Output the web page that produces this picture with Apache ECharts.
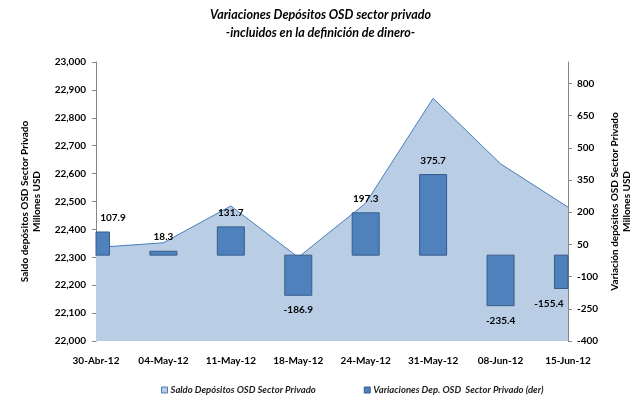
<!DOCTYPE html>
<html>
<head>
<meta charset="utf-8">
<script src="https://cdn.jsdelivr.net/npm/echarts@6/dist/echarts.min.js"></script>
<style>
  html, body { margin: 0; padding: 0; background: #fff; }
  #chart { width: 641px; height: 403px; }
</style>
</head>
<body>
<div id="chart"></div>
<script>
// datos
var fechas = ['30-Abr-12', '04-May-12', '11-May-12', '18-May-12', '24-May-12', '31-May-12', '08-Jun-12', '15-Jun-12'];
var saldo = [22335, 22352, 22484, 22300, 22494, 22870, 22635, 22480];
var variaciones = [107.9, 18.3, 131.7, -186.9, 197.3, 375.7, -235.4, -155.4];
var ticksDer = [-400, -250, -100, 50, 200, 350, 500, 650, 800];

var fuente = 'Lato, "Open Sans", sans-serif';
var chart = echarts.init(document.getElementById('chart'));

// barras como serie custom para poder recortarlas en los bordes del grid
function renderBarra (params, api) {
  var idx = api.value(0);
  var val = api.value(1);
  var pTop = api.coord([idx, val]);
  var pBase = api.coord([idx, 0]);
  var ancho = 27;
  var cs = params.coordSys;
  var rect = echarts.graphic.clipRectByRect({
    x: pTop[0] - ancho / 2,
    y: Math.min(pTop[1], pBase[1]),
    width: ancho,
    height: Math.abs(pBase[1] - pTop[1])
  }, { x: cs.x, y: cs.y, width: cs.width, height: cs.height });
  // etiqueta: se corre hacia adentro en los extremos
  var lx = Math.min(Math.max(pTop[0], cs.x + 17), cs.x + cs.width - 19);
  var ly = val >= 0 ? pTop[1] - 9 : pTop[1] + 10;
  return {
    type: 'group',
    children: [
      rect && {
        type: 'rect',
        shape: rect,
        style: { fill: '#4F81BD', stroke: '#385D8A', lineWidth: 1 }
      },
      {
        type: 'text',
        x: lx,
        y: ly,
        style: {
          text: val.toFixed(1),
          align: 'center',
          verticalAlign: val >= 0 ? 'bottom' : 'top',
          font: 'bold 10px ' + fuente,
          fill: '#000'
        }
      }
    ]
  };
}

var option = {
  animation: false,
  backgroundColor: '#fff',
  title: {
    text: 'Variaciones Depósitos OSD sector privado\n-incluidos en la definición de dinero-',
    left: 'center',
    top: 1,
    textStyle: {
      fontFamily: fuente, fontSize: 12.5, fontWeight: 'bold', fontStyle: 'italic',
      color: '#000', lineHeight: 18
    }
  },
  legend: {
    top: 380,
    left: 156,
    itemGap: 48,
    itemWidth: 6,
    itemHeight: 6,
    textStyle: { fontFamily: fuente, fontSize: 9.5, fontStyle: 'italic', fontWeight: 'bold', color: '#222', padding: [0, 0, 0, -2] },
    data: [
      { name: 'Saldo Depósitos OSD Sector Privado', icon: 'rect', itemStyle: { color: '#B9CDE5', borderColor: '#4A7EBB', borderWidth: 1 } },
      { name: 'Variaciones Dep. OSD  Sector Privado (der)', icon: 'rect', itemStyle: { color: '#4F81BD', borderColor: '#385D8A', borderWidth: 1 } }
    ]
  },
  grid: { left: 96, right: 72, top: 62, bottom: 62 },
  xAxis: {
    type: 'category',
    data: fechas,
    boundaryGap: false,
    axisLine: { lineStyle: { color: '#868686' } },
    axisTick: { alignWithLabel: true, length: 4, lineStyle: { color: '#868686' } },
    axisLabel: { fontFamily: fuente, fontSize: 10, fontWeight: 'bold', color: '#000', margin: 15, interval: 0 }
  },
  yAxis: [
    {
      type: 'value',
      min: 22000,
      max: 23000,
      interval: 100,
      name: 'Saldo depósitos OSD Sector Privado\nMillones USD',
      nameLocation: 'middle',
      nameRotate: 90,
      nameGap: 53,
      nameTextStyle: { fontFamily: fuente, fontSize: 10, fontWeight: 'bold', color: '#000', lineHeight: 12 },
      axisLine: { show: true, lineStyle: { color: '#868686' } },
      axisTick: { show: true, length: 4, lineStyle: { color: '#868686' } },
      splitLine: { show: false },
      axisLabel: {
        fontFamily: fuente, fontSize: 10, fontWeight: 'bold', color: '#000', margin: 10,
        formatter: function (v) { return v.toLocaleString('en-US'); }
      }
    },
    {
      type: 'value',
      min: -400,
      max: 900,
      name: 'Variación depósitos OSD Sector Privado\nMillones USD',
      nameLocation: 'middle',
      nameRotate: 90,
      nameGap: 35,
      nameTextStyle: { fontFamily: fuente, fontSize: 10, fontWeight: 'bold', color: '#000', lineHeight: 12 },
      axisLine: { show: true, lineStyle: { color: '#868686' } },
      axisTick: { show: true, length: 4, customValues: ticksDer, lineStyle: { color: '#868686' } },
      splitLine: { show: false },
      axisLabel: {
        fontFamily: fuente, fontSize: 10, fontWeight: 'bold', color: '#000', margin: 9,
        align: 'left',
        customValues: ticksDer
      }
    }
  ],
  series: [
    {
      name: 'Saldo Depósitos OSD Sector Privado',
      type: 'line',
      yAxisIndex: 0,
      data: saldo,
      symbol: 'none',
      z: 1,
      lineStyle: { color: '#4A7EBB', width: 1 },
      itemStyle: { color: '#B9CDE5' },
      areaStyle: { color: '#B9CDE5', opacity: 1, origin: 'start' }
    },
    {
      name: 'Variaciones Dep. OSD  Sector Privado (der)',
      type: 'custom',
      yAxisIndex: 1,
      z: 3,
      renderItem: renderBarra,
      encode: { x: 0, y: 1 },
      itemStyle: { color: '#4F81BD' },
      data: variaciones.map(function (v, i) { return [i, v]; })
    }
  ]
};

chart.setOption(option);
</script>
</body>
</html>
